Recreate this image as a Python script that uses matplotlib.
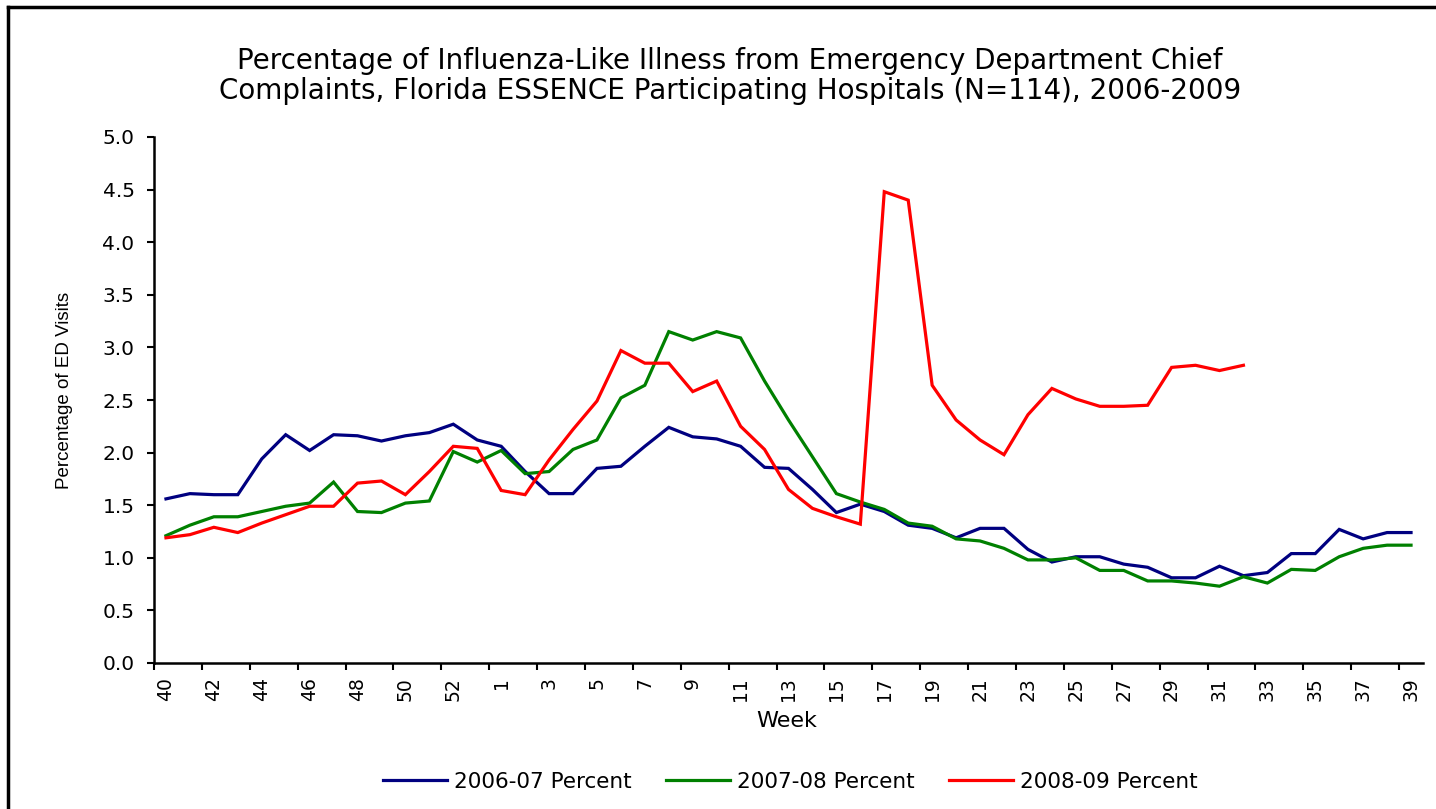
import numpy as np
import matplotlib
matplotlib.use("Agg")
import matplotlib.pyplot as plt
from matplotlib.lines import Line2D

weeks = [str(w) for w in range(40, 54)] + [str(w) for w in range(1, 40)]

s2006 = [1.56, 1.61, 1.60, 1.60, 1.94, 2.17, 2.02, 2.17, 2.16, 2.11, 2.16, 2.19, 2.27,
         2.12, 2.06, 1.82, 1.61, 1.61, 1.85, 1.87, 2.06, 2.24, 2.15, 2.13, 2.06, 1.86,
         1.85, 1.65, 1.43, 1.51, 1.44, 1.31, 1.28, 1.19, 1.28, 1.28, 1.08, 0.96, 1.01,
         1.01, 0.94, 0.91, 0.81, 0.81, 0.92, 0.83, 0.86, 1.04, 1.04, 1.27, 1.18, 1.24, 1.24]
s2007 = [1.21, 1.31, 1.39, 1.39, 1.44, 1.49, 1.52, 1.72, 1.44, 1.43, 1.52, 1.54, 2.01,
         1.91, 2.02, 1.80, 1.82, 2.03, 2.12, 2.52, 2.64, 3.15, 3.07, 3.15, 3.09, 2.68,
         2.31, 1.96, 1.61, 1.53, 1.46, 1.33, 1.30, 1.18, 1.16, 1.09, 0.98, 0.98, 1.00,
         0.88, 0.88, 0.78, 0.78, 0.76, 0.73, 0.82, 0.76, 0.89, 0.88, 1.01, 1.09, 1.12, 1.12]
s2008 = [1.19, 1.22, 1.29, 1.24, 1.33, 1.41, 1.49, 1.49, 1.71, 1.73, 1.60, 1.82, 2.06,
         2.04, 1.64, 1.60, 1.93, 2.22, 2.49, 2.97, 2.85, 2.85, 2.58, 2.68, 2.25, 2.03,
         1.65, 1.47, 1.39, 1.32, 4.48, 4.40, 2.64, 2.31, 2.12, 1.98, 2.36, 2.61, 2.51,
         2.44, 2.44, 2.45, 2.81, 2.83, 2.78, 2.83]
series_names = ["2006-07 Percent", "2007-08 Percent", "2008-09 Percent"]
colors = ["#000080", "#008000", "#FF0000"]

title = ("Percentage of Influenza-Like Illness from Emergency Department Chief\n"
         "Complaints, Florida ESSENCE Participating Hospitals (N=114), 2006-2009")

plt.rcParams['font.family'] = ['DejaVu Sans']

fig = plt.figure(figsize=(14.36, 8.09), dpi=100)
ax = fig.add_axes([154/1436, 1-663/809, (1423-154)/1436, (663-137)/809])

x = np.arange(len(weeks))
for data, name, c in zip([s2006, s2007, s2008], series_names, colors):
    ax.plot(x[:len(data)], data, color=c, lw=2.3, label=name, solid_joinstyle='miter')

ax.set_xlim(-0.5, len(weeks) - 0.5)
ax.set_ylim(0, 5.0)
yt = np.arange(0, 5.01, 0.5)
ax.set_yticks(yt)
ax.set_yticklabels([f"{v:.1f}" for v in yt], fontsize=14.5)

# major ticks at category boundaries every 2, labels at every other category
ax.set_xticks(np.arange(-0.5, len(weeks) - 0.5, 2))
ax.set_xticklabels([])
ax.set_xticks(np.arange(0, len(weeks), 2), minor=True)
ax.set_xticklabels(weeks[::2], minor=True, rotation=90, fontsize=13.5)
ax.tick_params(axis='x', which='minor', length=0, pad=10)
ax.tick_params(axis='x', which='major', length=5, width=1.5)
ax.tick_params(axis='y', length=5, width=1.5, pad=9)

for s in ['top', 'right']:
    ax.spines[s].set_visible(False)
for s in ['left', 'bottom']:
    ax.spines[s].set_linewidth(1.8)

ax.set_xlabel("Week", fontsize=16)
ax.xaxis.set_label_coords((787-154)/1269, (663-711)/526)
ax.set_ylabel("Percentage of ED Visits", fontsize=13.5, family=['Liberation Sans'])
ax.yaxis.set_label_coords((73-154)/1269, (663-390)/526)

fig.text(730/1436, 1-76/809, title, ha='center', va='center', fontsize=20,
         linespacing=1.12)

fig.legend(loc='center', bbox_to_anchor=(790/1436, 1-782/809), ncol=3, frameon=False,
           fontsize=15.5, handlelength=3.0, columnspacing=1.6, handletextpad=0.3)

fig.add_artist(Line2D([8/1436, 8/1436], [0, 1-7/809], color='black', lw=2.5,
                      transform=fig.transFigure))
fig.add_artist(Line2D([8/1436, 1], [1-7/809, 1-7/809], color='black', lw=2.5,
                      transform=fig.transFigure))

fig.savefig("out.png", dpi=100)
